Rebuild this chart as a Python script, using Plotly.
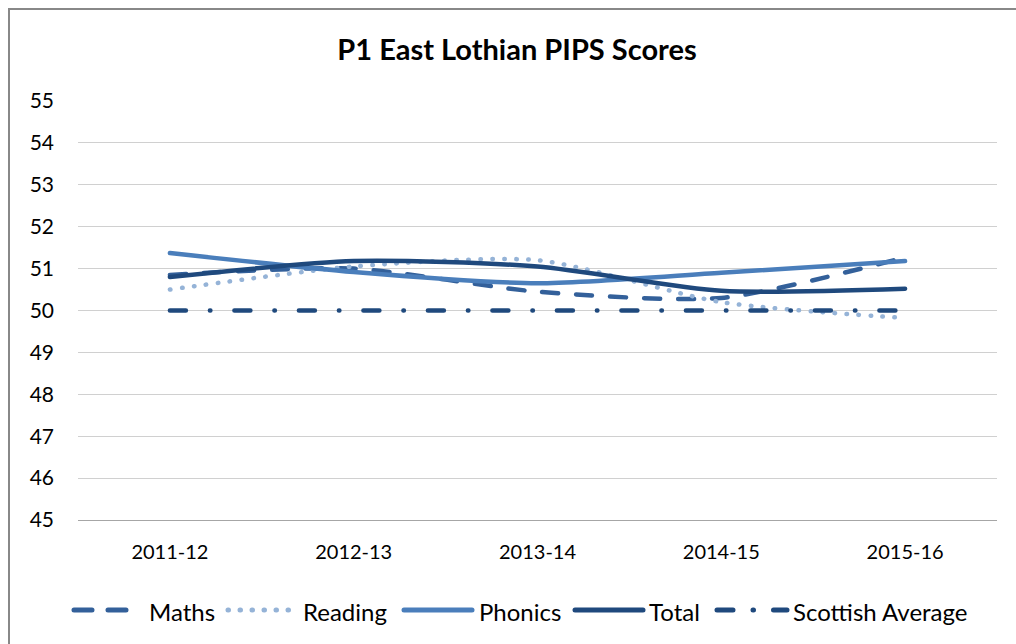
import plotly.graph_objects as go

years = ["2011-12", "2012-13", "2013-14", "2014-15", "2015-16"]
maths = [50.85, 51.0, 50.45, 50.3, 51.27]
reading = [50.5, 51.05, 51.2, 50.2, 49.82]
phonics = [51.37, 50.92, 50.65, 50.9, 51.18]
total = [50.8, 51.18, 51.05, 50.47, 50.52]
scottish = [50, 50, 50, 50, 50]

series_names = ["Maths", "Reading", "Phonics", "Total", "Scottish Average"]
series_colors = ["#33609a", "#95b3d7", "#4a7ebb", "#1f497d", "#1f497d"]
series_dash = ["16px,18px", "0.5px,11.5px", "solid", "solid", "16px,24px,0.5px,24px"]
series_values = [maths, reading, phonics, total, scottish]

FONT = "Lato"
# plot area geometry (px)
L, R, T, B = 78, 19, 101, 124
W, H = 1016, 644
PW, PH = W - L - R, H - T - B


def px_x(p):
    return (p - L) / PW


def px_y(p):
    return (H - B - p) / PH


fig = go.Figure()
for name, vals, col, dash in zip(series_names, series_values, series_colors, series_dash):
    smooth = name != "Scottish Average"
    fig.add_trace(go.Scatter(
        x=years, y=vals, name=name, mode="lines", showlegend=False,
        line=dict(color=col, width=4.5, dash=dash,
                  shape="spline" if smooth else "linear", smoothing=0.7 if smooth else None)))

# custom legend (symbol start, symbol end, text start) in px
legend_pos = [(74, 132, 149), (228, 290, 303), (404, 472, 479), (575, 643, 649), (717, 787, 793)]
legend_dash = ["18px,16px", "0.5px,11.5px", "solid", "solid", "16px,20px,0.5px,20px"]
LY = 610
shapes = []
annotations = []
for (s0, s1, t0), name, col, dash in zip(legend_pos, series_names, series_colors, legend_dash):
    shapes.append(dict(type="line", xref="paper", yref="paper", x0=px_x(s0), x1=px_x(s1),
                       y0=px_y(LY), y1=px_y(LY), line=dict(color=col, width=5, dash=dash)))
    annotations.append(dict(text=name, xref="paper", yref="paper", x=px_x(t0), y=px_y(LY + 1),
                            xanchor="left", yanchor="middle", showarrow=False, xshift=-2,
                            font=dict(family=FONT, size=24, color="black")))

shapes.append(dict(type="rect", xref="paper", yref="paper",
                   x0=px_x(9), x1=px_x(1040), y0=px_y(670), y1=px_y(9),
                   line=dict(color="#888888", width=2), fillcolor="rgba(0,0,0,0)", layer="below"))

fig.update_layout(
    width=W, height=H,
    margin=dict(l=L, r=R, t=T, b=B),
    paper_bgcolor="white", plot_bgcolor="white",
    font=dict(family=FONT, size=20, color="black"),
    title=dict(text="<b>P1 East Lothian PIPS Scores</b>", x=517 / W, xanchor="center",
               y=1 - 50 / H, yanchor="middle", font=dict(size=29, family=FONT, color="black")),
    showlegend=False,
    xaxis=dict(type="category", showgrid=False, showline=True, linecolor="#a6a6a6", linewidth=1,
               ticks="", tickfont=dict(size=20), range=[-0.5, 4.5], ticklabelstandoff=14),
    yaxis=dict(range=[45, 55], dtick=1, showgrid=True, gridcolor="#d0d0d0", gridwidth=1,
               zeroline=False, showline=False, tickfont=dict(size=21), ticklabelstandoff=23),
    shapes=shapes,
    annotations=annotations,
)

post = """
document.body.style.margin='0';
function rc(){
  var ps = document.querySelectorAll('.scatterlayer path.js-line, .shapelayer path');
  for (var i = 0; i < ps.length; i++) {
    ps[i].setAttribute('stroke-linecap', 'round');
    ps[i].style.strokeLinecap = 'round';
  }
}
rc(); setTimeout(rc, 30); setTimeout(rc, 200); setTimeout(rc, 600);
"""
fig.write_html("out.html", post_script=post, config={"displayModeBar": False})
